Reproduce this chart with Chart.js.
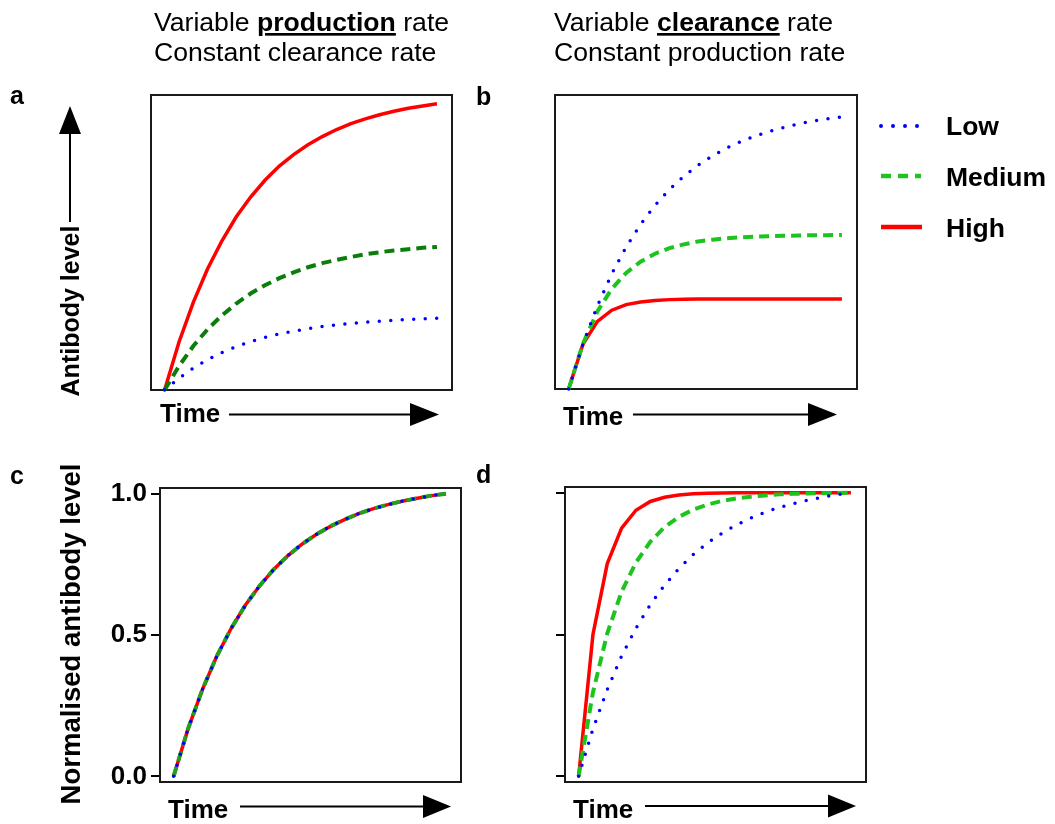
<!DOCTYPE html>
<html lang="en">
<head>
  <meta charset="UTF-8">
  <title>Antibody kinetics</title>
  <script src="https://cdn.jsdelivr.net/npm/chart.js"></script>
  <style>
    body { margin: 0; background: #fff; }
    #wrap { position: relative; width: 1055px; height: 824px; overflow: hidden; }
    canvas { position: absolute; }
    #overlay { position: absolute; left: 0; top: 0; pointer-events: none; }
    #overlay text { font-family: 'Liberation Sans', Arial, sans-serif; fill: #000; }
    .bold { font-weight: bold; }
  </style>
</head>
<body>
  <div id="wrap">
    <canvas id="chartA"></canvas>
    <canvas id="chartB"></canvas>
    <canvas id="chartC"></canvas>
    <canvas id="chartD"></canvas>

    <svg id="overlay" width="1055" height="824">
      <!-- column headings -->
      <text x="154" y="31" font-size="26.6">Variable <tspan class="bold" text-decoration="underline">production</tspan> rate</text>
      <text x="154" y="61" font-size="26.6">Constant clearance rate</text>
      <text x="554" y="31" font-size="26.6">Variable <tspan class="bold" text-decoration="underline">clearance</tspan> rate</text>
      <text x="554" y="61" font-size="26.6">Constant production rate</text>

      <!-- panel letters -->
      <text class="bold" x="10" y="104" font-size="25">a</text>
      <text class="bold" x="476" y="105" font-size="25">b</text>
      <text class="bold" x="10" y="484" font-size="25">c</text>
      <text class="bold" x="476" y="483" font-size="25">d</text>

      <!-- y axis titles -->
      <text class="bold" font-size="25" text-anchor="middle" transform="translate(79,311) rotate(-90)">Antibody level</text>
      <line x1="70" y1="222" x2="70" y2="132" stroke="#000" stroke-width="2"/>
      <polygon points="70,106 59,134 81,134" fill="#000"/>
      <text class="bold" font-size="27.5" text-anchor="middle" transform="translate(80,634) rotate(-90)">Normalised antibody level</text>

      <!-- time arrows -->
      <text class="bold" x="160" y="422" font-size="26">Time</text>
      <line x1="229" y1="414.5" x2="412" y2="414.5" stroke="#000" stroke-width="2"/>
      <polygon points="410,403 439,414.5 410,426" fill="#000"/>

      <text class="bold" x="563" y="425" font-size="26">Time</text>
      <line x1="633" y1="414.5" x2="810" y2="414.5" stroke="#000" stroke-width="2"/>
      <polygon points="808,403 837,414.5 808,426" fill="#000"/>

      <text class="bold" x="168" y="818" font-size="26">Time</text>
      <line x1="240" y1="806.5" x2="425" y2="806.5" stroke="#000" stroke-width="2"/>
      <polygon points="423,795 451,806.5 423,818" fill="#000"/>

      <text class="bold" x="573" y="818" font-size="26">Time</text>
      <line x1="645" y1="806" x2="830" y2="806" stroke="#000" stroke-width="2"/>
      <polygon points="828,794.5 856,806 828,817.5" fill="#000"/>

      <!-- legend -->
      <line x1="881" y1="126" x2="918" y2="126" stroke="#0000ff" stroke-width="4" stroke-linecap="round" stroke-dasharray="0 12"/>
      <line x1="881" y1="176" x2="921" y2="176" stroke="#1ec41e" stroke-width="4.5" stroke-dasharray="10 7"/>
      <line x1="881" y1="227" x2="922" y2="227" stroke="#ff0000" stroke-width="4.5"/>
      <text class="bold" x="946" y="135" font-size="26.5">Low</text>
      <text class="bold" x="946" y="186" font-size="26.5">Medium</text>
      <text class="bold" x="946" y="237" font-size="26.5">High</text>
    </svg>
  </div>

  <script>
    // time points shared by every panel
    const times = [0, 1, 2, 3, 4, 5, 6, 7, 8, 9, 10, 11, 12, 13, 14, 15, 16, 17, 18, 19];

    // a: variable production, constant clearance (raw level)
    const prodLow = [0, 0.040, 0.074, 0.103, 0.127, 0.147, 0.164, 0.178, 0.190, 0.199, 0.208, 0.215, 0.221, 0.226, 0.230, 0.233, 0.236, 0.239, 0.241, 0.243];
    const prodMed = [0, 0.081, 0.149, 0.206, 0.253, 0.293, 0.327, 0.355, 0.379, 0.399, 0.416, 0.430, 0.441, 0.451, 0.460, 0.467, 0.473, 0.477, 0.482, 0.485];
    const prodHigh = [0, 0.162, 0.297, 0.411, 0.506, 0.587, 0.654, 0.711, 0.759, 0.798, 0.831, 0.859, 0.883, 0.903, 0.919, 0.933, 0.945, 0.955, 0.963, 0.970];

    // b: variable clearance, constant production (raw level)
    const clearLow = [0, 0.154, 0.283, 0.392, 0.483, 0.560, 0.624, 0.678, 0.723, 0.761, 0.793, 0.820, 0.842, 0.861, 0.877, 0.890, 0.902, 0.911, 0.919, 0.925];
    const clearMed = [0, 0.155, 0.264, 0.341, 0.395, 0.433, 0.460, 0.479, 0.492, 0.502, 0.508, 0.513, 0.516, 0.518, 0.520, 0.521, 0.522, 0.523, 0.523, 0.524];
    const clearHigh = [0, 0.153, 0.230, 0.268, 0.287, 0.296, 0.301, 0.304, 0.305, 0.306, 0.306, 0.306, 0.306, 0.306, 0.306, 0.306, 0.306, 0.306, 0.306, 0.306];

    // c: normalised, production varies -> all three curves coincide
    const normProd = [0, 0.167, 0.306, 0.424, 0.522, 0.605, 0.674, 0.733, 0.782, 0.823, 0.857, 0.886, 0.910, 0.931, 0.948, 0.962, 0.974, 0.984, 0.993, 1.0];

    // d: normalised, clearance varies
    const normLow = [0, 0.167, 0.306, 0.424, 0.522, 0.605, 0.674, 0.733, 0.782, 0.823, 0.857, 0.886, 0.910, 0.931, 0.948, 0.962, 0.974, 0.984, 0.993, 1.0];
    const normMed = [0, 0.296, 0.504, 0.651, 0.754, 0.827, 0.879, 0.915, 0.940, 0.958, 0.971, 0.980, 0.986, 0.990, 0.994, 0.996, 0.997, 0.998, 0.999, 1.0];
    const normHigh = [0, 0.500, 0.750, 0.875, 0.938, 0.969, 0.984, 0.992, 0.996, 0.998, 0.999, 1.0, 1.0, 1.0, 1.0, 1.0, 1.0, 1.0, 1.0, 1.0];

    const normTicks = [0, 0.5, 1.0];

    const BLUE = '#0000ff';
    const RED = '#ff0000';

    function pts(values) {
      return values.map((v, i) => ({ x: times[i], y: v }));
    }

    function lowSet(values) {
      return { label: 'Low', data: pts(values), borderColor: BLUE, borderWidth: 3.5,
               borderDash: [0, 11.5], borderCapStyle: 'round' };
    }
    function medSet(values, color) {
      return { label: 'Medium', data: pts(values), borderColor: color, borderWidth: 4,
               borderDash: [10, 6] };
    }
    function highSet(values) {
      return { label: 'High', data: pts(values), borderColor: RED, borderWidth: 3.5 };
    }

    // frame around the plotting area
    const frame = {
      id: 'frame',
      beforeDatasetsDraw(chart) {
        const a = chart.chartArea;
        const ctx = chart.ctx;
        ctx.save();
        ctx.strokeStyle = '#1a1a1a';
        ctx.lineWidth = 2;
        ctx.strokeRect(a.left, a.top, a.right - a.left, a.bottom - a.top);
        ctx.restore();
      }
    };

    const PAD = 24;

    // box = plotting area in page pixels; axisW = width reserved for y ticks
    function panel(id, box, datasets, yAxis) {
      const axisW = yAxis ? yAxis.width : 0;
      const cv = document.getElementById(id);
      cv.width = box.w + 2 * PAD + axisW;
      cv.height = box.h + 2 * PAD;
      cv.style.left = (box.l - PAD - axisW) + 'px';
      cv.style.top = (box.t - PAD) + 'px';

      const y = yAxis ? {
        display: true,
        min: -0.02,
        max: 1.02,
        afterBuildTicks: s => { s.ticks = normTicks.map(v => ({ value: v })); },
        afterFit: s => { s.width = axisW; },
        border: { display: false },
        grid: { drawOnChartArea: false, drawTicks: true, tickLength: 9, color: '#000', lineWidth: 2 },
        ticks: {
          display: yAxis.labels,
          padding: 4,
          color: '#000',
          font: { family: "'Liberation Sans', Arial, sans-serif", size: 26, weight: 'bold' },
          callback: v => v.toFixed(1)
        }
      } : { display: false, min: 0, max: 1 };

      new Chart(cv.getContext('2d'), {
        type: 'line',
        data: { datasets: datasets },
        options: {
          responsive: false,
          animation: false,
          devicePixelRatio: 1,
          layout: { padding: PAD },
          elements: { point: { radius: 0 }, line: { tension: 0, fill: false } },
          datasets: { line: { clip: false } },
          plugins: { legend: { display: false }, tooltip: { enabled: false } },
          scales: {
            x: { type: 'linear', display: false, min: -0.95, max: 20.05 },
            y: y
          }
        },
        plugins: [frame]
      });
    }

    panel('chartA', { l: 151, t: 95, w: 301, h: 295 },
      [lowSet(prodLow), medSet(prodMed, '#0b7d0b'), highSet(prodHigh)]);

    panel('chartB', { l: 555, t: 95, w: 302, h: 294 },
      [lowSet(clearLow), medSet(clearMed, '#1ec41e'), highSet(clearHigh)]);

    panel('chartC', { l: 160, t: 488, w: 301, h: 294 },
      [lowSet(normProd), medSet(normProd, '#1fa01f'), highSet(normProd)],
      { width: 60, labels: true });

    panel('chartD', { l: 565, t: 487, w: 301, h: 295 },
      [lowSet(normLow), medSet(normMed, '#1ec41e'), highSet(normHigh)],
      { width: 10, labels: false });
  </script>
</body>
</html>
